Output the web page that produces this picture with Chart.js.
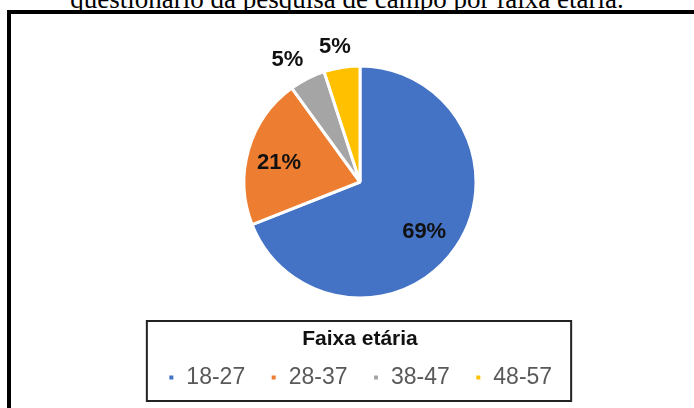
<!DOCTYPE html>
<html>
<head>
<meta charset="utf-8">
<script src="https://cdn.jsdelivr.net/npm/chart.js@4"></script>
<style>
  html, body { margin: 0; padding: 0; background: #fff; }
  #page { position: relative; width: 694px; height: 408px; overflow: hidden; }
  #caption {
    position: absolute; left: 0; width: 694px; top: -14px;
    text-align: center; font-family: "Liberation Serif", "Times New Roman", serif;
    font-size: 27px; color: #000; white-space: nowrap; line-height: 27px;
  }
  #frame {
    position: absolute; left: 7px; top: 10px; right: -10px; bottom: -10px;
    border-top: 4px solid #000; border-left: 4px solid #000;
  }
  #myChart { position: absolute; left: 0; top: 0; }
</style>
</head>
<body>
<div id="page">
  <div id="caption">questionário da pesquisa de campo por faixa etária.</div>
  <div id="frame"></div>
  <canvas id="myChart" width="694" height="408"></canvas>
</div>
<script>
// Chart data
const categories = ['18-27', '28-37', '38-47', '48-57'];
const shares = [69, 21, 5, 5];
const sliceColors = ['#4472C4', '#ED7D31', '#A5A5A5', '#FFC000'];
const legendTitle = 'Faixa etária';

// Percentage labels: inside big slices, just outside the small ones
const sliceLabels = {
  id: 'sliceLabels',
  afterDatasetsDraw(chart) {
    const ctx = chart.ctx;
    const meta = chart.getDatasetMeta(0);
    ctx.save();
    ctx.font = 'bold 22px "Liberation Sans", Arial, sans-serif';
    ctx.fillStyle = '#111';
    ctx.textAlign = 'center';
    ctx.textBaseline = 'middle';
    meta.data.forEach((arc, i) => {
      const p = arc.getProps(['x', 'y', 'startAngle', 'endAngle', 'outerRadius'], true);
      const mid = (p.startAngle + p.endAngle) / 2;
      const txt = shares[i] + '%';
      const c = Math.cos(mid), s = Math.sin(mid);
      let x, y;
      if (shares[i] >= 10) {
        x = p.x + c * p.outerRadius * 0.7 - 3;
        y = p.y + s * p.outerRadius * 0.7 + 4;
      } else {
        const w = ctx.measureText(txt).width;
        x = p.x + c * p.outerRadius * 1.05 + c * w * 1.2;
        y = p.y + s * p.outerRadius * 1.05 + s * 15;
      }
      ctx.fillText(txt, x, y);
    });
    ctx.restore();
  }
};

// Box around the legend
const legendBox = {
  id: 'legendBox',
  afterDraw(chart) {
    const lg = chart.legend;
    if (!lg || !lg.legendHitBoxes.length) return;
    const boxes = lg.legendHitBoxes;
    const left = Math.min(...boxes.map(b => b.left)) - 21;
    const right = Math.max(...boxes.map(b => b.left + b.width)) + 19;
    const top = lg.top + 21.5;
    const bottom = lg.bottom + 2;
    const ctx = chart.ctx;
    ctx.save();
    ctx.strokeStyle = '#222';
    ctx.lineWidth = 2;
    ctx.strokeRect(left, top, right - left, bottom - top);
    ctx.restore();
  }
};

const ctx = document.getElementById('myChart').getContext('2d');
new Chart(ctx, {
  type: 'pie',
  data: {
    labels: categories,
    datasets: [{
      data: shares,
      backgroundColor: sliceColors,
      borderColor: '#fff',
      borderWidth: 3
    }]
  },
  options: {
    responsive: false,
    animation: false,
    layout: { padding: { left: 26, right: 0, top: 64.5, bottom: 9 } },
    plugins: {
      tooltip: { enabled: false },
      legend: {
        position: 'bottom',
        title: {
          display: true,
          text: legendTitle,
          color: '#111',
          font: { family: '"Liberation Sans", Arial, sans-serif', size: 21, weight: 'bold' },
          padding: { top: 28.9, bottom: -12.6 }
        },
        labels: {
          boxWidth: 7,
          boxHeight: 7,
          padding: 25,
          color: '#595959',
          font: { family: '"Liberation Sans", Arial, sans-serif', size: 23 }
        }
      }
    }
  },
  plugins: [sliceLabels, legendBox]
});
</script>
</body>
</html>
